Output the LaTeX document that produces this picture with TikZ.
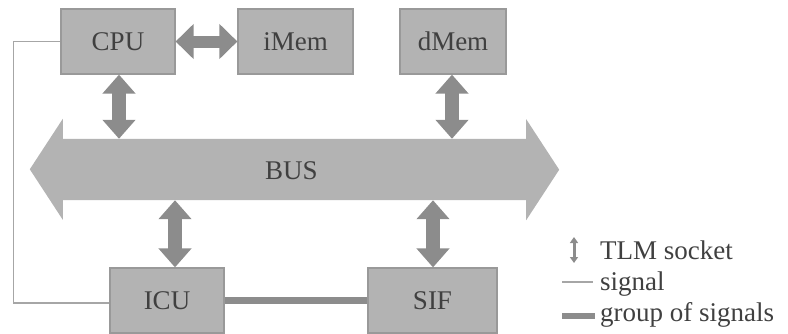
\documentclass[tikz,border=0pt]{standalone}
\usepackage{fontspec}
\setmainfont{Liberation Serif}
\usepackage{tikz}
\usetikzlibrary{arrows.meta,%
                shapes,positioning}
\definecolor{boxgray}{HTML}{B3B3B3}
\definecolor{edgegray}{HTML}{999999}
\definecolor{arrowgray}{HTML}{8C8C8C}
\definecolor{wiregray}{HTML}{A6A6A6}
\definecolor{txtgray}{HTML}{404040}

\begin{document}
\begin{tikzpicture}[x=1pt,y=-1pt,
  font=\fontsize{27}{32}\selectfont,
  block/.style={draw=edgegray,line width=1.2pt,fill=boxgray,text=txtgray,minimum height=65pt,inner sep=0pt},
  sock/.style={draw=arrowgray,line width=14pt,{Triangle[width=32pt,length=19pt]}-{Triangle[width=32pt,length=19pt]}},
  hsock/.style={draw=arrowgray,line width=12pt,{Triangle[width=34pt,length=18pt]}-{Triangle[width=34pt,length=18pt]}},
  wire/.style={draw=wiregray,line width=1.3pt},
  bundle/.style={draw=arrowgray,line width=7pt},
  legtext/.style={anchor=base west,text=txtgray,inner sep=0pt}]
\useasboundingbox (0,0) rectangle (788,333);
%\draw[red] (0,0) rectangle (788,333);
\node[block,minimum width=114pt] (cpu) at (118,41.5) {CPU};
\node[block,minimum width=115pt] (imem) at (295.5,41.5) {iMem};
\node[block,minimum width=106pt] (dmem) at (453,41.5) {dMem};
\node[block,minimum width=114pt] (icu) at (167,300.5) {ICU};
\node[block,minimum width=129pt] (sif) at (432.5,300.5) {SIF};
\node[minimum width=463pt,minimum height=61pt,inner sep=0pt] (bus) at (294.5,169.5) {};
\fill[boxgray] (bus.north west) -- ++(0,-20) -- ++(-33,50.5) -- ++(33,50.5) -- (bus.south west)
  -- (bus.south east) -- ++(0,20) -- ++(33,-50.5) -- ++(-33,-50.5) -- (bus.north east) -- cycle;
\node[text=txtgray] (buslabel) at ([xshift=-3pt,yshift=-1.5pt]bus) {BUS};
\draw[hsock] (cpu.east) -- (imem.west);
\draw[sock] ([xshift=1pt]cpu.south) -- ([xshift=1pt]cpu.south |- bus.north);
\draw[sock] ([xshift=-1pt]dmem.south) -- ([xshift=-1pt]dmem.south |- bus.north);
\draw[sock] ([xshift=8pt]icu.north) -- ([xshift=8pt]icu.north |- bus.south);
\draw[sock] ([xshift=0.5pt]sif.north) -- ([xshift=0.5pt]sif.north |- bus.south);
\draw[wire] (cpu.west) -- ++(-47,0) |- ([yshift=-2.5pt]icu.west);
\draw[bundle] (icu.east) -- (sif.west);
% legend
\node[legtext] (tlm) at (600,259) {TLM socket};
\node[legtext] (sig) at (600,290) {signal};
\node[legtext] (grp) at (600,321) {group of signals};
\draw[draw=arrowgray,line width=3pt,{Triangle[width=8pt,length=6pt]}-{Triangle[width=8pt,length=6pt]}] (574,237) -- (574,263);
\draw[wire] (562,282) -- (593,282);
\draw[bundle,line width=6pt] (562,316) -- (595,316);
\end{tikzpicture}
\end{document}
